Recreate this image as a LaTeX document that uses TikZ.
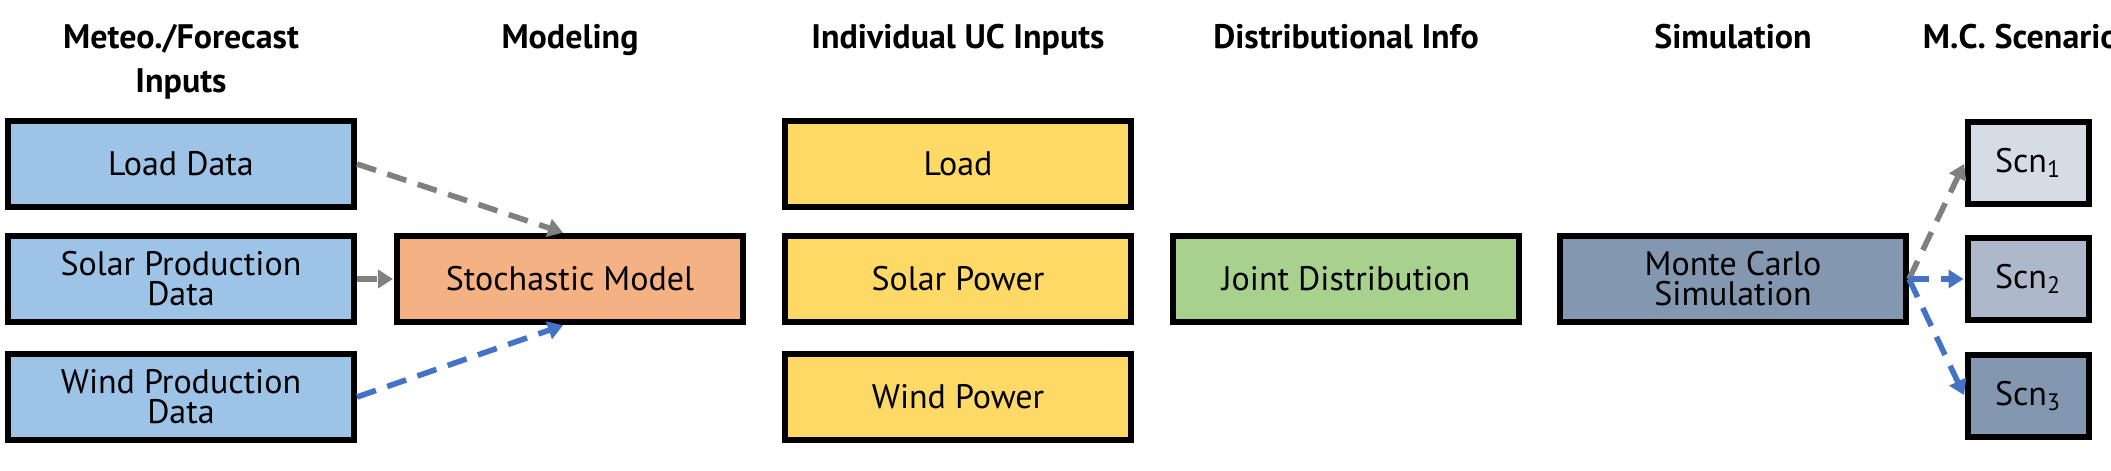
\documentclass[tikz,border=0pt]{standalone}
\usepackage{fontspec}
\setmainfont{PT Sans}
\usetikzlibrary{positioning,arrows.meta}
\definecolor{inblue}{HTML}{9DC3E6}
\definecolor{modorange}{HTML}{F4B183}
\definecolor{ucyellow}{HTML}{FFD966}
\definecolor{distgreen}{HTML}{A9D18E}
\definecolor{simslate}{HTML}{8497B0}
\definecolor{scnlight}{HTML}{D6DCE5}
\definecolor{scnmid}{HTML}{ADB9CA}
\definecolor{flowgray}{HTML}{808080}
\definecolor{flowblue}{HTML}{4472C4}
\tikzset{
  box/.style={draw=black, line width=3pt, minimum width=173pt,
    minimum height=43pt, inner sep=2pt, align=center,
    font=\fontsize{17}{15}\selectfont},
  scnbox/.style={box, minimum width=60.5pt, minimum height=41pt},
  head/.style={anchor=north, inner sep=0pt, align=center,
    font=\fontsize{17}{22}\selectfont\bfseries},
  grayflow/.style={line width=2.8pt, draw=flowgray, dash pattern=on 10pt off 6pt,
    -{Triangle[length=7.5pt,width=9pt]}, shorten >=0.5pt},
  blueflow/.style={grayflow, draw=flowblue}
}

\begin{document}
\begin{tikzpicture}[x=0.5pt,y=-0.5pt]
  \useasboundingbox (0,0) rectangle (2111,471);
  % column headers
  \node[head] (hmeteo) at (181,24) {Meteo./Forecast\\Inputs};
  \node[head] (hmodel) at (570,24) {Modeling};
  \node[head] (huc) at (958,24) {Individual UC Inputs};
  \node[head] (hdist) at (1346,24) {Distributional Info};
  \node[head] (hsim) at (1733,24) {Simulation};
  \node[head] (hscn) at (2028,24) {M.C. Scenarios};
  % forecast inputs
  \node[box, fill=inblue] (loaddata) at (181,164) {Load Data};
  \node[box, fill=inblue] (solardata) at (181,279) {Solar Production\\Data};
  \node[box, fill=inblue] (winddata) at (181,397) {Wind Production\\Data};
  \node[box, fill=modorange] (stoch) at (570,279) {Stochastic Model};
  % UC inputs
  \node[box, fill=ucyellow] (load) at (958,164) {Load};
  \node[box, fill=ucyellow] (solar) at (958,279) {Solar Power};
  \node[box, fill=ucyellow] (wind) at (958,397) {Wind Power};
  \node[box, fill=distgreen] (joint) at (1346,279) {Joint Distribution};
  \node[box, fill=simslate] (mc) at (1733,279) {Monte Carlo\\Simulation};
  % scenarios
  \node[scnbox, fill=scnlight] (scn1) at (2028,163) {Scn\textsubscript{1}};
  \node[scnbox, fill=scnmid] (scn2) at (2028,279) {Scn\textsubscript{2}};
  \node[scnbox, fill=simslate] (scn3) at (2028,396) {Scn\textsubscript{3}};
  % flows
  \draw[grayflow] (loaddata.east) -- ([xshift=-3pt]stoch.north);
  \draw[grayflow] (solardata.east) -- (stoch.west);
  \draw[blueflow] (winddata.east) -- ([xshift=-3pt]stoch.south);
  \draw[grayflow] (mc.east) -- (scn1.west);
  \draw[blueflow] (mc.east) -- (scn2.west);
  \draw[blueflow] (mc.east) -- (scn3.west);
\end{tikzpicture}
\end{document}
